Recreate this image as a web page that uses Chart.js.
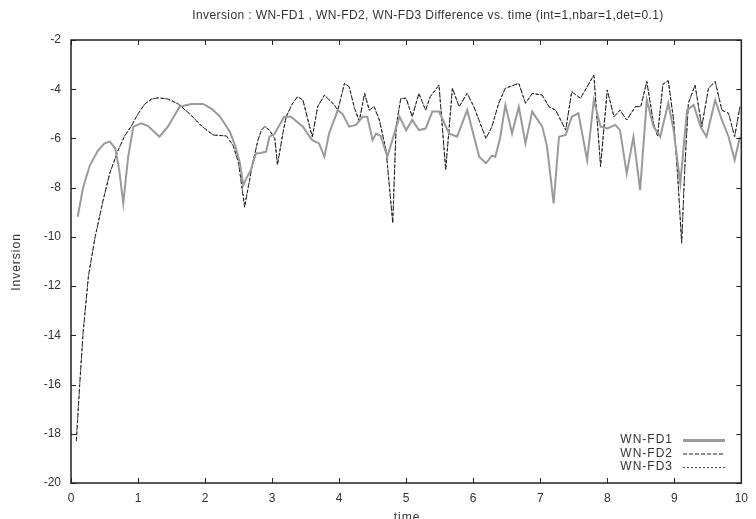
<!DOCTYPE html>
<html lang="en">

<head>
    <meta charset="UTF-8">
    <title>Inversion WN-FD1 / WN-FD2 / WN-FD3</title>
    <script src="https://cdn.jsdelivr.net/npm/chart.js"></script>
    <style>
        html, body {
            margin: 0;
            padding: 0;
            background: #ffffff;
        }

        #chartContainer {
            width: 756px;
            height: 519px;
        }
    </style>
</head>

<body>
    <div id="chartContainer">
        <canvas id="myChart" width="756" height="519"></canvas>
    </div>
    <script>
        const titleText = 'Inversion : WN-FD1 , WN-FD2, WN-FD3 Difference vs. time (int=1,nbar=1,det=0.1)';
        const seriesNames = ['WN-FD1', 'WN-FD2', 'WN-FD3'];
        const xTicks = [0, 1, 2, 3, 4, 5, 6, 7, 8, 9, 10];
        const yTicks = [-20, -18, -16, -14, -12, -10, -8, -6, -4, -2];

        // WN-FD1 (grey solid)
        const fd1Time = [0.1, 0.18, 0.28, 0.4, 0.5, 0.58, 0.66, 0.72, 0.78, 0.85, 0.93, 1.05, 1.15, 1.32, 1.45, 1.62, 1.8, 1.97, 2.1, 2.22,
            2.37, 2.45, 2.52, 2.57, 2.62, 2.68, 2.76, 2.81, 2.91, 2.96, 3.04, 3.1, 3.18, 3.28, 3.46, 3.56, 3.6, 3.7, 3.78, 3.85,
            3.98, 4.05, 4.15, 4.25, 4.35, 4.42, 4.5, 4.55, 4.62, 4.72, 4.8, 4.9, 5.0, 5.09, 5.19, 5.29, 5.39, 5.49, 5.64, 5.76,
            5.91, 6.09, 6.19, 6.28, 6.33, 6.4, 6.48, 6.58, 6.68, 6.78, 6.88, 7.03, 7.1, 7.2, 7.28, 7.38, 7.47, 7.57, 7.7, 7.8,
            7.9, 8.0, 8.12, 8.19, 8.29, 8.39, 8.49, 8.59, 8.69, 8.79, 8.91, 8.99, 9.09, 9.19, 9.29, 9.39, 9.48, 9.61, 9.71, 9.81,
            9.9, 9.98];
        const fd1Values = [-9.18, -8.0, -7.1, -6.5, -6.2, -6.13, -6.4, -7.3, -8.64, -6.8, -5.52, -5.39, -5.5, -5.93, -5.5, -4.71, -4.6, -4.6, -4.8, -5.1,
            -5.73, -6.3, -7.0, -7.9, -7.6, -7.3, -6.6, -6.6, -6.54, -5.93, -5.8, -5.5, -5.12, -5.12, -5.52, -5.93, -6.07, -6.2, -6.74, -5.8,
            -4.85, -5.0, -5.52, -5.45, -5.12, -5.12, -6.07, -5.8, -5.9, -6.74, -6.0, -5.12, -5.66, -5.25, -5.66, -5.6, -4.91, -4.91, -5.8, -5.93,
            -4.85, -6.74, -7.01, -6.7, -6.74, -6.0, -4.64, -5.8, -4.71, -6.2, -4.91, -5.52, -6.3, -8.64, -5.93, -5.86, -5.12, -4.98, -6.88, -4.44,
            -5.52, -5.59, -5.45, -5.66, -7.42, -5.93, -8.1, -4.44, -5.52, -5.93, -4.57, -5.66, -7.83, -4.85, -4.64, -5.52, -5.93, -4.44, -5.25, -5.93,
            -6.88, -5.93];

        // WN-FD2 (dashed) and WN-FD3 (dotted) share the same time samples
        const fd2Time = [0.08, 0.13, 0.18, 0.26, 0.36, 0.48, 0.58, 0.7, 0.8, 0.9, 1.0, 1.1, 1.2, 1.3, 1.45, 1.6, 1.77, 1.95, 2.12, 2.32,
            2.42, 2.5, 2.59, 2.65, 2.71, 2.79, 2.84, 2.89, 2.96, 3.04, 3.08, 3.16, 3.21, 3.3, 3.38, 3.46, 3.56, 3.6, 3.68, 3.78,
            3.93, 3.98, 4.08, 4.15, 4.23, 4.3, 4.38, 4.45, 4.52, 4.6, 4.7, 4.8, 4.85, 4.92, 5.0, 5.09, 5.19, 5.29, 5.36, 5.49,
            5.59, 5.69, 5.79, 5.91, 6.01, 6.19, 6.28, 6.38, 6.48, 6.68, 6.78, 6.88, 7.03, 7.13, 7.23, 7.38, 7.47, 7.6, 7.8, 7.9,
            8.0, 8.1, 8.19, 8.29, 8.42, 8.5, 8.59, 8.69, 8.75, 8.83, 8.91, 8.99, 9.05, 9.11, 9.16, 9.21, 9.31, 9.41, 9.51, 9.61,
            9.71, 9.81, 9.9, 9.98];
        const fd2Values = [-18.3, -16.0, -13.9, -11.6, -10.0, -8.5, -7.4, -6.5, -5.9, -5.5, -5.0, -4.6, -4.4, -4.35, -4.4, -4.6, -5.0, -5.5, -5.86, -5.9,
            -6.3, -7.0, -8.8, -7.9, -7.0, -6.07, -5.66, -5.52, -5.66, -6.0, -7.08, -5.8, -5.12, -4.6, -4.3, -4.44, -5.52, -5.93, -4.71, -4.24,
            -4.64, -4.85, -3.76, -3.9, -4.78, -5.3, -4.17, -4.85, -4.7, -5.25, -6.47, -9.45, -5.52, -4.37, -4.37, -5.12, -4.17, -4.85, -4.3, -3.83,
            -7.28, -3.96, -4.71, -4.17, -4.71, -6.0, -5.52, -4.57, -3.96, -3.76, -4.57, -4.17, -4.24, -4.71, -4.85, -5.66, -4.1, -4.37, -3.42, -7.15,
            -4.03, -5.12, -4.85, -5.25, -4.71, -4.7, -3.69, -5.39, -5.9, -3.8, -3.65, -5.25, -7.5, -10.26, -7.0, -4.57, -3.83, -5.52, -3.96, -3.69,
            -4.85, -4.98, -5.93, -4.71];
        const fd3Values = [-18.2, -16.0, -13.9, -11.6, -10.0, -8.5, -7.4, -6.5, -5.9, -5.5, -5.0, -4.6, -4.4, -4.35, -4.4, -4.6, -5.0, -5.5, -5.86, -5.9,
            -6.3, -7.0, -8.7, -7.9, -7.0, -6.07, -5.66, -5.52, -5.66, -6.0, -7.05, -5.8, -5.12, -4.6, -4.3, -4.44, -5.52, -5.93, -4.71, -4.24,
            -4.64, -4.85, -3.76, -3.9, -4.78, -5.3, -4.17, -4.85, -4.7, -5.25, -6.47, -9.4, -5.52, -4.37, -4.37, -5.12, -4.17, -4.85, -4.3, -3.83,
            -7.25, -3.96, -4.71, -4.17, -4.71, -6.0, -5.52, -4.57, -3.96, -3.76, -4.57, -4.17, -4.24, -4.71, -4.85, -5.66, -4.1, -4.37, -3.42, -7.1,
            -4.03, -5.12, -4.85, -5.25, -4.71, -4.7, -3.69, -5.39, -5.9, -3.8, -3.65, -5.25, -7.5, -10.2, -7.0, -4.57, -3.83, -5.52, -3.96, -3.69,
            -4.85, -4.98, -5.93, -4.71];

        const toPoints = (xs, ys) => xs.map((x, i) => ({ x: x, y: ys[i] }));

        const fontFamily = '"Liberation Sans", "DejaVu Sans", sans-serif';

        // gnuplot style frame: box, inward ticks on all four sides, title, axis names, legend
        const framePlugin = {
            id: 'frame',
            afterDraw(chart) {
                const ctx = chart.ctx;
                const area = chart.chartArea;
                const xs = chart.scales.x;
                const ys = chart.scales.y;
                ctx.save();
                ctx.strokeStyle = '#222';
                ctx.lineWidth = 1.5;
                ctx.strokeRect(area.left, area.top, area.right - area.left, area.bottom - area.top);

                ctx.lineWidth = 1;
                ctx.beginPath();
                xTicks.forEach(v => {
                    const px = Math.round(xs.getPixelForValue(v)) + 0.5;
                    ctx.moveTo(px, area.bottom); ctx.lineTo(px, area.bottom - 5);
                    ctx.moveTo(px, area.top); ctx.lineTo(px, area.top + 5);
                });
                yTicks.forEach(v => {
                    const py = Math.round(ys.getPixelForValue(v)) + 0.5;
                    ctx.moveTo(area.left, py); ctx.lineTo(area.left + 5, py);
                    ctx.moveTo(area.right, py); ctx.lineTo(area.right - 5, py);
                });
                ctx.stroke();

                // title
                ctx.fillStyle = '#333';
                ctx.font = '12px ' + fontFamily;
                ctx.letterSpacing = '0.4px';
                ctx.textAlign = 'center';
                ctx.textBaseline = 'middle';
                ctx.fillText(titleText, 428, 16);

                // x axis name (cut at bottom edge like the reference)
                ctx.letterSpacing = '1px';
                ctx.fillText('time', 407, 518);

                // y axis name
                ctx.save();
                ctx.translate(17, 262);
                ctx.rotate(-Math.PI / 2);
                ctx.fillText('Inversion', 0, 0);
                ctx.restore();

                // legend in lower right corner
                ctx.textAlign = 'right';
                chart.data.datasets.forEach((ds, i) => {
                    const y = 440 + i * 13.5;
                    ctx.fillStyle = '#333';
                    ctx.fillText(ds.label, 673, y);
                    ctx.beginPath();
                    ctx.strokeStyle = ds.borderColor;
                    ctx.lineWidth = i === 0 ? 3 : ds.borderWidth;
                    ctx.setLineDash(ds.borderDash || []);
                    ctx.moveTo(683, y + 0.5);
                    ctx.lineTo(725, y + 0.5);
                    ctx.stroke();
                });
                ctx.setLineDash([]);
                ctx.restore();
            }
        };

        const ctx = document.getElementById('myChart').getContext('2d');
        const myChart = new Chart(ctx, {
            type: 'line',
            data: {
                datasets: [{
                    label: seriesNames[0],
                    data: toPoints(fd1Time, fd1Values),
                    borderColor: '#9a9a9a',
                    borderWidth: 2,
                    pointRadius: 0,
                    tension: 0
                }, {
                    label: seriesNames[1],
                    data: toPoints(fd2Time, fd2Values),
                    borderColor: '#222',
                    borderWidth: 1,
                    borderDash: [4, 2],
                    pointRadius: 0,
                    tension: 0
                }, {
                    label: seriesNames[2],
                    data: toPoints(fd2Time, fd3Values),
                    borderColor: '#444',
                    borderWidth: 1,
                    borderDash: [2, 2],
                    pointRadius: 0,
                    tension: 0
                }]
            },
            options: {
                responsive: false,
                animation: false,
                layout: {
                    padding: { top: 40, right: 13, left: 0, bottom: 0 }
                },
                plugins: {
                    legend: { display: false },
                    tooltip: { enabled: false }
                },
                scales: {
                    x: {
                        type: 'linear',
                        min: 0,
                        max: 10,
                        afterFit: (scale) => { scale.height = 36; },
                        afterBuildTicks: (scale) => { scale.ticks = xTicks.map(v => ({ value: v })); },
                        grid: { display: false, drawTicks: false },
                        border: { display: false },
                        ticks: {
                            padding: 8,
                            color: '#333',
                            font: { size: 12, family: fontFamily },
                            maxRotation: 0
                        }
                    },
                    y: {
                        type: 'linear',
                        min: -20,
                        max: -2,
                        afterFit: (scale) => { scale.width = 71; },
                        afterBuildTicks: (scale) => { scale.ticks = yTicks.map(v => ({ value: v })); },
                        grid: { display: false, drawTicks: false },
                        border: { display: false },
                        ticks: {
                            padding: 10,
                            color: '#333',
                            font: { size: 12, family: fontFamily }
                        }
                    }
                }
            },
            plugins: [framePlugin]
        });
    </script>

</body>

</html>
